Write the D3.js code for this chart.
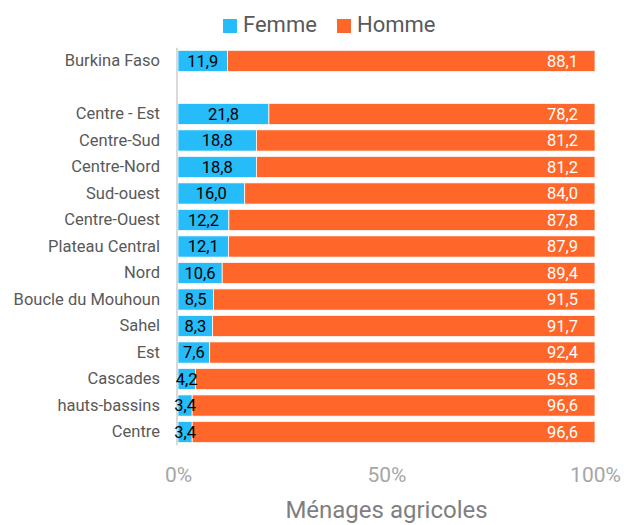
<!DOCTYPE html>
<html>
<head>
<meta charset="utf-8">
<script src="https://cdn.jsdelivr.net/npm/d3@7"></script>
<style>
  html, body { margin: 0; padding: 0; background: #fff; }
  svg { display: block; font-family: Roboto, "Open Sans", sans-serif; }
</style>
</head>
<body>
<svg id="chart" width="624" height="525"></svg>
<script>
const categories = ["Burkina Faso", "", "Centre - Est", "Centre-Sud", "Centre-Nord", "Sud-ouest", "Centre-Ouest", "Plateau Central", "Nord", "Boucle du Mouhoun", "Sahel", "Est", "Cascades", "hauts-bassins", "Centre"];
const femme = [11.9, null, 21.8, 18.8, 18.8, 16.0, 12.2, 12.1, 10.6, 8.5, 8.3, 7.6, 4.2, 3.4, 3.4];
const homme = [88.1, null, 78.2, 81.2, 81.2, 84.0, 87.8, 87.9, 89.4, 91.5, 91.7, 92.4, 95.8, 96.6, 96.6];
const seriesNames = ["Femme", "Homme"];
const xTicks = [0, 50, 100];
const axisTitle = "Ménages agricoles";

const colors = { Femme: "#26BCF9", Homme: "#FF6629" };

const svg = d3.select("#chart");
const margin = { left: 178, right: 29, top: 47.7, bottom: 79.7 };
const W = 624, H = 525;

const x = d3.scaleLinear().domain([0, 100]).range([margin.left, W - margin.right]);
const y = d3.scaleBand().domain(d3.range(categories.length))
  .range([margin.top, H - margin.bottom]).paddingInner(0.2).paddingOuter(0.1);

const rows = categories.map((c, i) => ({ i, cat: c, Femme: femme[i], Homme: homme[i] }))
  .filter(d => d.Femme != null);
const stack = d3.stack().keys(seriesNames)(rows);

const fmt = v => d3.format(".1f")(v).replace(".", ",");

// bars
const g = svg.append("g");
stack.forEach(layer => {
  g.selectAll(null).data(layer).enter().append("rect")
    .attr("x", d => x(d[0]))
    .attr("width", d => x(d[1]) - x(d[0]))
    .attr("y", d => y(d.data.i))
    .attr("height", y.bandwidth())
    .attr("fill", colors[layer.key])
    .attr("stroke", "#fff")
    .attr("stroke-width", 0.75);
});

// category axis
const yAxis = svg.append("g").attr("transform", `translate(${x(0) - 1},0)`)
  .call(d3.axisLeft(y).tickSize(0).tickPadding(17).tickFormat(i => categories[i]));
yAxis.select(".domain").attr("stroke", "#d9d9d9").attr("stroke-width", 2)
  .attr("d", `M0,${margin.top}V${H - margin.bottom}`);
yAxis.selectAll("text").attr("font-size", 16.5).attr("fill", "#595959")
  .attr("font-family", "Roboto, sans-serif");

// value axis
const xAxis = svg.append("g").attr("transform", `translate(0,${H - margin.bottom})`)
  .call(d3.axisBottom(x).tickValues(xTicks).tickSize(0).tickPadding(22).tickFormat(v => v + "%"));
xAxis.select(".domain").remove();
xAxis.selectAll("text").attr("font-size", 21).attr("fill", "#a6a6a6")
  .attr("font-family", "Roboto, sans-serif");

// axis title
svg.append("text").attr("x", x(50)).attr("y", 518).attr("text-anchor", "middle")
  .attr("font-size", 24).attr("fill", "#7f7f7f").text(axisTitle);

// data labels
const lab = svg.append("g").attr("font-size", 16.5);
lab.selectAll(null).data(stack[0]).enter().append("text")
  .attr("x", d => (x(d[0]) + x(d[1])) / 2)
  .attr("y", d => y(d.data.i) + y.bandwidth() / 2)
  .attr("dy", "0.36em").attr("text-anchor", "middle").attr("fill", "#000")
  .text(d => fmt(d.data.Femme));
lab.selectAll(null).data(stack[1]).enter().append("text")
  .attr("x", d => x(d[1]) - 17)
  .attr("y", d => y(d.data.i) + y.bandwidth() / 2)
  .attr("dy", "0.36em").attr("text-anchor", "end").attr("fill", "#fff")
  .text(d => fmt(d.data.Homme));

// legend
const leg = svg.append("g");
const legItems = [{ k: "Femme", x: 223 }, { k: "Homme", x: 337 }];
legItems.forEach(it => {
  leg.append("rect").attr("x", it.x).attr("y", 19).attr("width", 14).attr("height", 14)
    .attr("fill", colors[it.k]);
  leg.append("text").attr("x", it.x + 20).attr("y", 32).attr("font-size", 22)
    .attr("fill", "#595959").text(it.k);
});
</script>
</body>
</html>
